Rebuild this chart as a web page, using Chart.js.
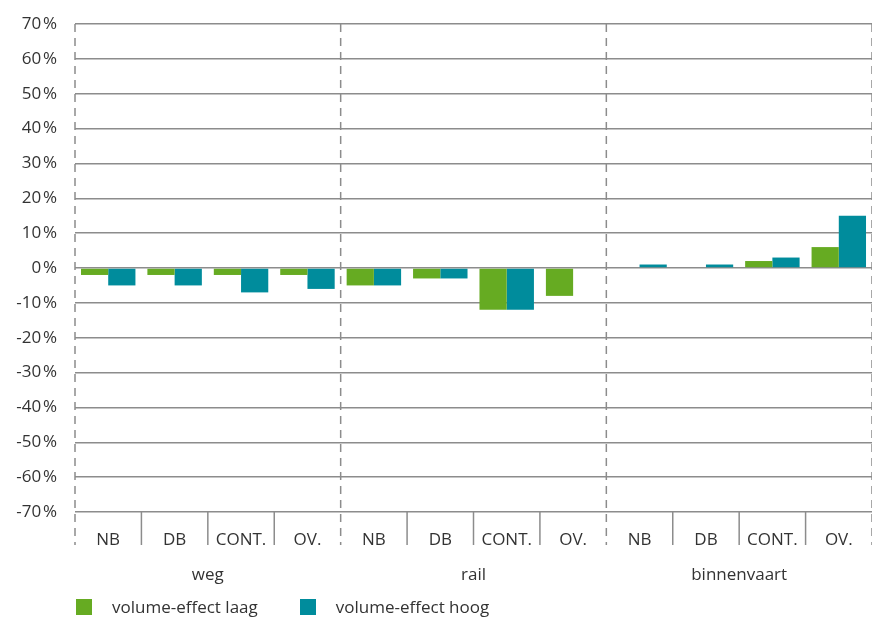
<!DOCTYPE html>
<html>
<head>
<meta charset="utf-8">
<script src="https://cdn.jsdelivr.net/npm/chart.js@4.4.1/dist/chart.umd.min.js"></script>
<style>
  html, body { margin: 0; padding: 0; background: #fff; }
  #wrap { position: relative; width: 872px; height: 621px; }
  #legend { position: absolute; left: 76px; top: 595px; display: flex; font: 17px "Open Sans", sans-serif; color: #333; }
  .item { display: flex; align-items: center; }
  .item + .item { margin-left: 42px; }
  .box { width: 16px; height: 16px; margin-right: 20px; }
</style>
</head>
<body>
<div id="wrap">
  <canvas id="chart" width="872" height="621"></canvas>
  <div id="legend"></div>
</div>
<script>
// volume effect per mode and cargo type

const categories = ["NB", "DB", "CONT.", "OV.", "NB", "DB", "CONT.", "OV.", "NB", "DB", "CONT.", "OV."];
const groups = ["weg", "rail", "binnenvaart"];
const laag = [-2, -2, -2, -2, -5, -3, -12, -8, 0, 0, 2, 6];
const hoog = [-5, -5, -7, -6, -5, -3, -12, 0, 1, 1, 3, 15];
const yTicks = [70, 60, 50, 40, 30, 20, 10, 0, -10, -20, -30, -40, -50, -60, -70];

const GREEN = "#66ab22";
const TEAL = "#008c9c";
const LINE = "#8c8c8c";
const TEXT = "#333";
const FONT = "'Open Sans', sans-serif";

const perGroup = categories.length / groups.length;

// separators between categories and the group names under the axis
const separators = {
  id: "separators",
  beforeDatasetsDraw(chart) {
    const { ctx, chartArea } = chart;
    const x = chart.scales.x;
    const step = x.getPixelForValue(1) - x.getPixelForValue(0);
    const bottom = chartArea.bottom + 33;
    ctx.save();
    ctx.strokeStyle = LINE;
    ctx.lineWidth = 1.5;
    for (let i = 0; i <= categories.length; i++) {
      const px = x.getPixelForValue(i) - step / 2;
      ctx.beginPath();
      if (i % perGroup === 0) {
        ctx.setLineDash([8, 6]);
        ctx.moveTo(px, chartArea.top);
      } else {
        ctx.setLineDash([]);
        ctx.moveTo(px, chartArea.bottom);
      }
      ctx.lineTo(px, bottom);
      ctx.stroke();
    }
    ctx.restore();
  },
  afterDraw(chart) {
    const { ctx, chartArea } = chart;
    const x = chart.scales.x;
    ctx.save();
    ctx.fillStyle = TEXT;
    ctx.font = "17px " + FONT;
    ctx.textAlign = "center";
    ctx.textBaseline = "middle";
    groups.forEach((g, i) => {
      const a = x.getPixelForValue(i * perGroup);
      const b = x.getPixelForValue(i * perGroup + perGroup - 1);
      ctx.fillText(g, (a + b) / 2, chartArea.bottom + 63);
    });
    ctx.restore();
  },
};

new Chart(document.getElementById("chart"), {
  type: "bar",
  data: {
    labels: categories,
    datasets: [
      { label: "volume-effect laag", data: laag, backgroundColor: GREEN },
      { label: "volume-effect hoog", data: hoog, backgroundColor: TEAL },
    ],
  },
  options: {
    responsive: false,
    animation: false,
    layout: { padding: { top: 24, right: 0, left: 0, bottom: 0 } },
    datasets: { bar: { barPercentage: 1, categoryPercentage: 0.82 } },
    plugins: { legend: { display: false }, tooltip: { enabled: false } },
    scales: {
      x: {
        grid: { display: false },
        border: { display: false },
        ticks: { color: TEXT, font: { family: FONT, size: 17 }, padding: 10, maxRotation: 0, autoSkip: false },
        afterFit: (s) => { s.height = 109; },
      },
      y: {
        min: -70,
        max: 70,
        afterBuildTicks: (s) => { s.ticks = yTicks.map((v) => ({ value: v })); },
        grid: { color: LINE, lineWidth: 1.5, drawTicks: false },
        border: { display: false },
        ticks: { color: TEXT, font: { family: FONT, size: 17 }, padding: 18, callback: (v) => v + "\u200A%" },
        afterFit: (s) => { s.width = 75; s.paddingTop = 0; s.paddingBottom = 0; },
      },
    },
  },
  plugins: [separators],
});

const legendEl = document.getElementById("legend");
[["volume-effect laag", GREEN], ["volume-effect hoog", TEAL]].forEach(([name, col]) => {
  const it = document.createElement("div");
  it.className = "item";
  it.innerHTML = `<span class="box" style="background:${col}"></span><span>${name}</span>`;
  legendEl.appendChild(it);
});
</script>
</body>
</html>
